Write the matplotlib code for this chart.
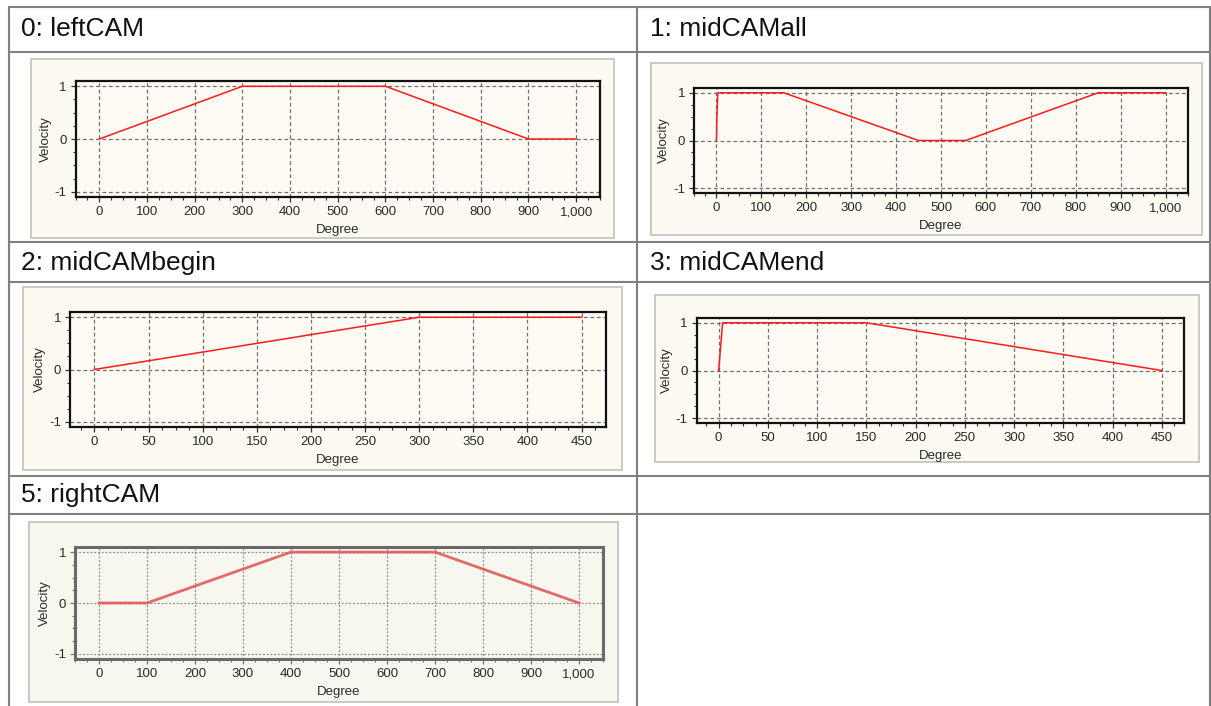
import matplotlib
matplotlib.use("Agg")
import matplotlib.pyplot as plt
from matplotlib.patches import Rectangle
from matplotlib.ticker import MultipleLocator, FuncFormatter

plt.rcParams["axes.unicode_minus"] = False

W, H = 1211, 706

# ---- data -------------------------------------------------------------
titles = ["0: leftCAM", "1: midCAMall", "2: midCAMbegin", "3: midCAMend", "5: rightCAM"]

left_deg = [0, 300, 600, 900, 1000]
left_vel = [0, 1, 1, 0, 0]

midall_deg = [0, 1, 3, 150, 450, 555, 850, 1000]
midall_vel = [0, 0.5, 1, 1, 0, 0, 1, 1]

midbegin_deg = [0, 300, 450]
midbegin_vel = [0, 1, 1]

midend_deg = [0, 1, 3, 4, 150, 450]
midend_vel = [0, 0.25, 0.75, 1, 1, 0]

right_deg = [0, 100, 400, 700, 1000]
right_vel = [0, 0, 1, 1, 0]

y_ticks = [-1, 0, 1]
x_label = "Degree"
y_label = "Velocity"

fig = plt.figure(figsize=(W / 100, H / 100), dpi=100)
fig.patch.set_facecolor("white")

# full-figure canvas in pixel units for the table grid and panels
bg = fig.add_axes([0, 0, 1, 1], zorder=0)
bg.set_xlim(0, W)
bg.set_ylim(H, 0)
bg.axis("off")

LINE = "#808080"
for y in [7, 52, 242, 282, 476, 514]:
    bg.plot([8, W], [y, y], color=LINE, lw=1.5, solid_capstyle="butt")
for x in [9, 637, 1210]:
    bg.plot([x, x], [7, H], color=LINE, lw=1.5, solid_capstyle="butt")

header_pos = [(21, 29), (650, 29), (21, 263), (650, 263), (21, 495)]
for (hx, hy), t in zip(header_pos, titles):
    bg.text(hx, hy, t, fontsize=19, family="Liberation Sans", color="#111111",
            va="center", ha="left")


def rect(l, t, r, b):
    return [l / W, 1 - b / H, (r - l) / W, (b - t) / H]


def chart(panel, frame, xs, ys, xmax, xmajor, xminor, soft=False):
    pl, pt, pr, pb = panel
    bg.add_patch(Rectangle((pl, pt), pr - pl, pb - pt,
                           facecolor="#f8f7ef" if soft else "#fcfaf1",
                           edgecolor="#c4c2b8", lw=1.2, zorder=1))
    ax = fig.add_axes(rect(*frame), zorder=2)
    ax.set_facecolor("#f8f7ef" if soft else "#fdfbf3")
    ax.set_xlim(-0.05 * xmax, 1.05 * xmax)
    ax.set_ylim(-1.1, 1.1)
    ax.xaxis.set_major_locator(MultipleLocator(xmajor))
    ax.xaxis.set_minor_locator(MultipleLocator(xminor))
    ax.set_yticks(y_ticks)
    ax.yaxis.set_minor_locator(MultipleLocator(0.25))
    ax.xaxis.set_major_formatter(FuncFormatter(lambda v, p: f"{int(round(v)):,}"))
    ax.set_xticks([v for v in range(0, xmax + 1, xmajor)])
    ax.grid(True, which="major", color="#8a8a8a" if soft else "#707070", lw=0.9,
            linestyle=(0, (1.5, 1.5)) if soft else (0, (3, 2.2)))
    tick_col = "#777777" if soft else "#333333"
    ax.tick_params(which="major", direction="out", length=3.5, width=0.9,
                   color=tick_col, labelsize=9.5, labelcolor="#2a2a2a", pad=3)
    ax.tick_params(which="minor", direction="out", length=2, width=0.8, color=tick_col)
    for lab in ax.get_xticklabels() + ax.get_yticklabels():
        lab.set_family("Liberation Sans")
    for s in ax.spines.values():
        s.set_color("#6a6a6a" if soft else "#111111")
        s.set_linewidth(2.2 if soft else 1.6)
    if soft:
        ax.plot(xs, ys, color="#e25a5a", lw=2.0, alpha=0.9, solid_joinstyle="round")
    else:
        ax.plot(xs, ys, color="#ff1a1a", lw=1.1)
    fl, ft, fr, fb = frame
    bg.text((fl + fr) / 2, fb + 33, x_label, fontsize=9.5, family="Liberation Sans",
            color="#2a2a2a", ha="center", va="center", zorder=3)
    bg.text(fl - 30, (ft + fb) / 2, y_label, fontsize=9.5, family="Liberation Sans",
            color="#2a2a2a", ha="center", va="center", rotation=90, zorder=3)
    return ax


chart((31, 59, 614, 238), (75.5, 81, 600, 197), left_deg, left_vel, 1000, 100, 25)
chart((651, 63, 1202, 235), (694, 88, 1188, 193), midall_deg, midall_vel, 1000, 100, 25)
chart((23, 287, 622, 470), (70, 312, 606, 427), midbegin_deg, midbegin_vel, 450, 50, 12.5)
chart((655, 295, 1199, 462), (696.5, 318, 1184, 423), midend_deg, midend_vel, 450, 50, 12.5)
chart((28.5, 522, 618, 702), (75, 547, 603, 659), right_deg, right_vel, 1000, 100, 25, soft=True)

fig.savefig("out.png", dpi=100, facecolor="white")
